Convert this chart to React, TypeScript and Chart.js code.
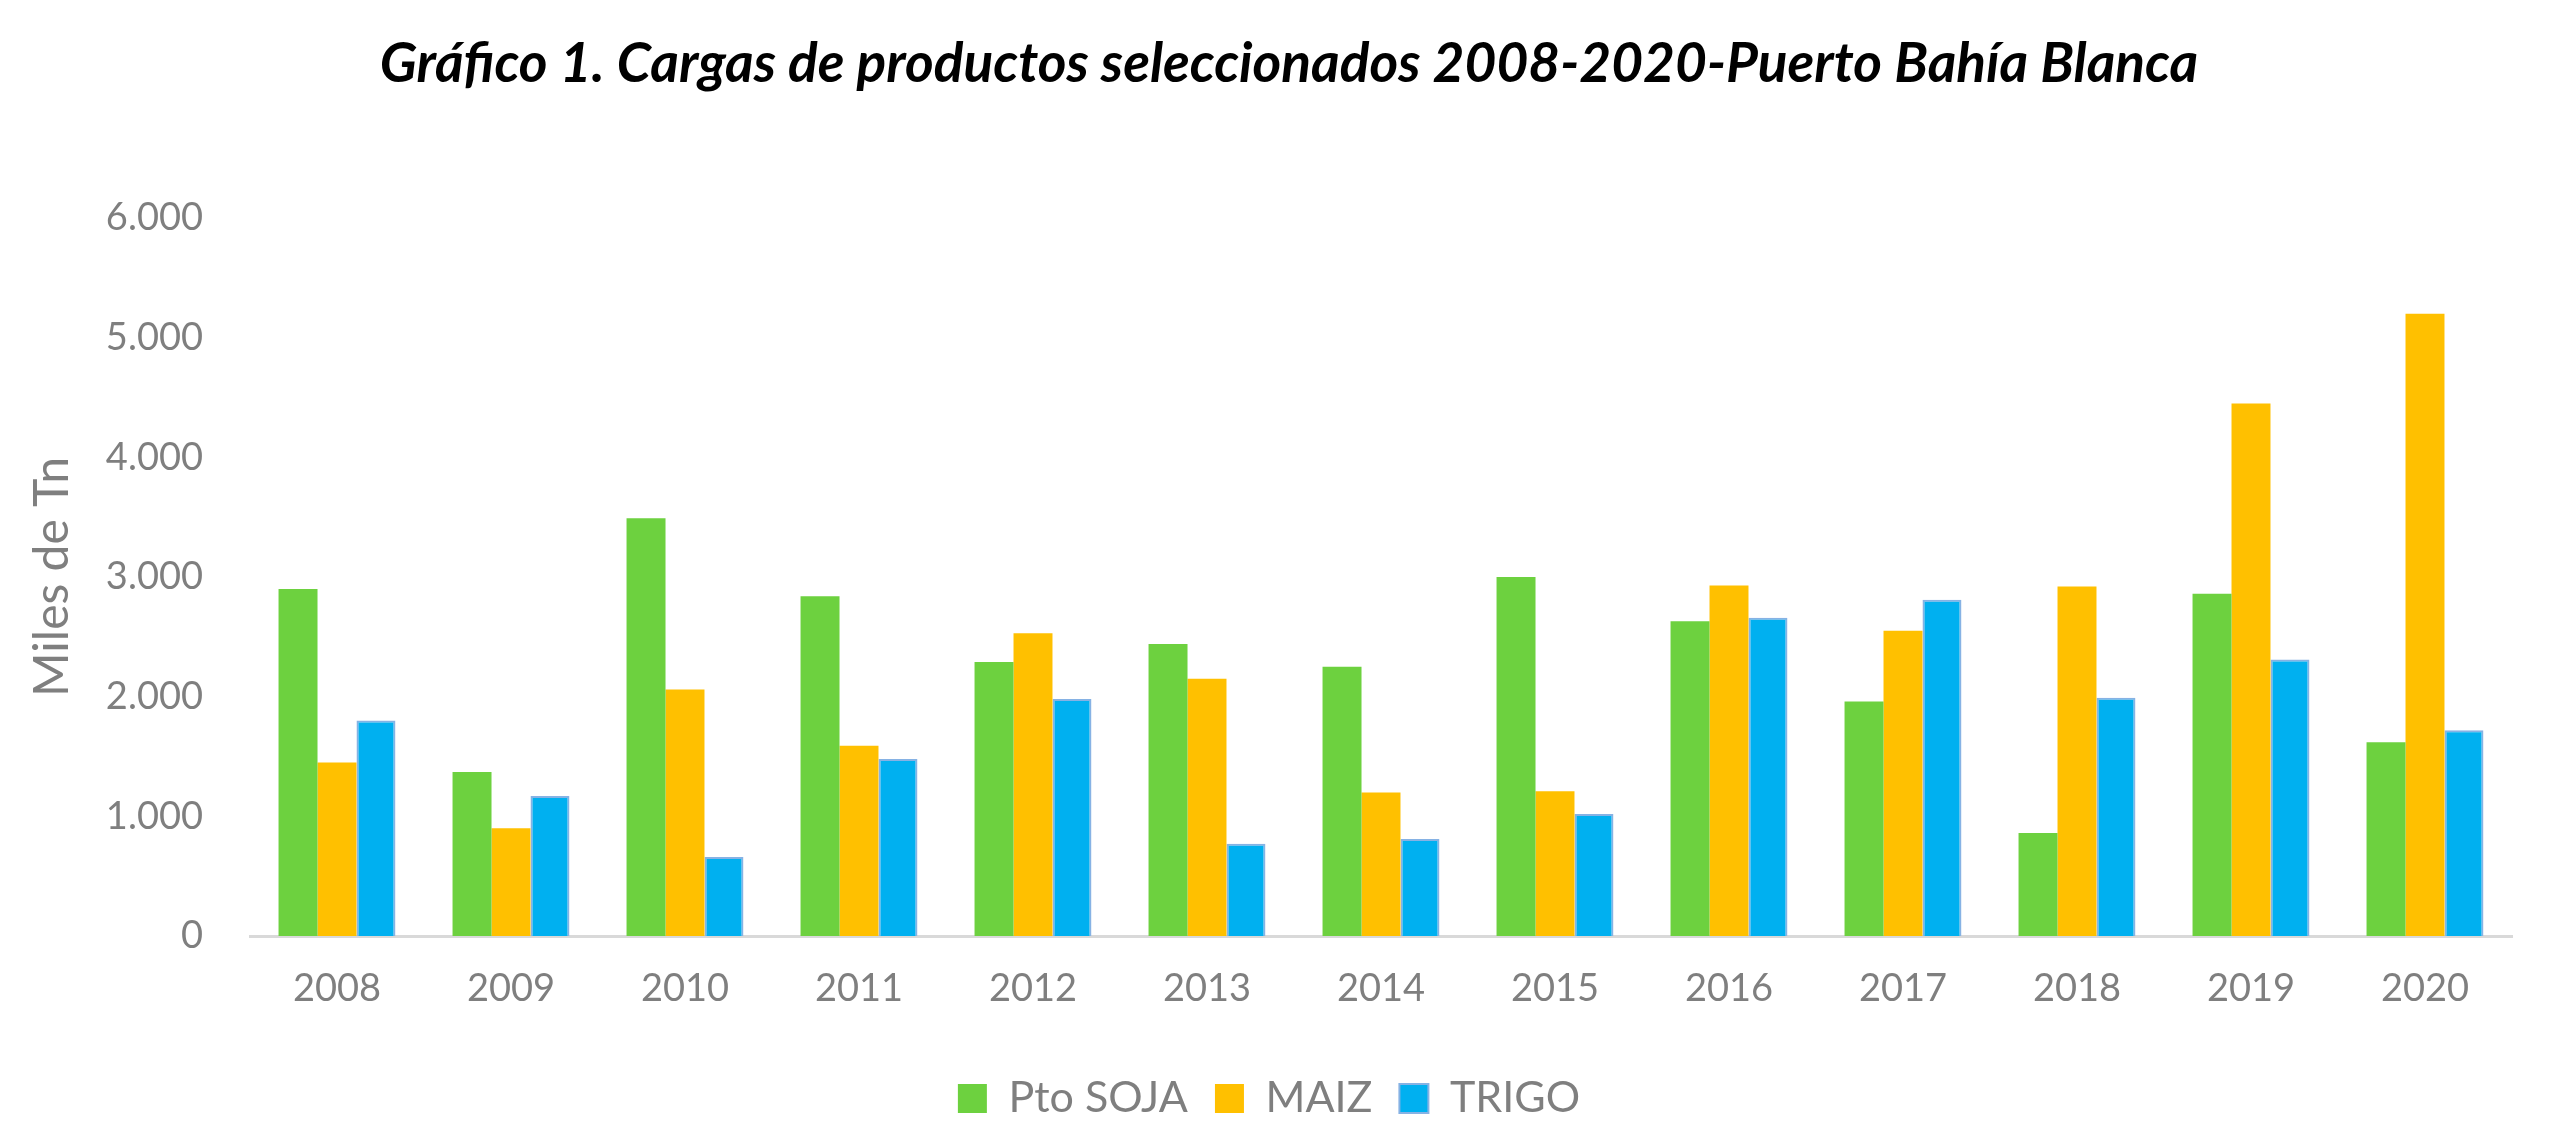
import React, { useEffect, useRef } from "react";
import { Chart, registerables } from "chart.js";

Chart.register(...registerables);

const chartTitle = "Gráfico 1. Cargas de productos seleccionados 2008-2020-Puerto Bahía Blanca";
const yAxisTitle = "Miles de Tn";
const years = ["2008", "2009", "2010", "2011", "2012", "2013", "2014", "2015", "2016", "2017", "2018", "2019", "2020"];
const seriesNames = ["Pto SOJA", "MAIZ", "TRIGO"];
const soja = [2900, 1370, 3490, 2840, 2290, 2440, 2250, 3000, 2630, 1960, 860, 2860, 1620];
const maiz = [1450, 900, 2060, 1590, 2530, 2150, 1200, 1210, 2930, 2550, 2920, 4450, 5200];
const trigo = [1800, 1170, 660, 1480, 1980, 770, 810, 1020, 2660, 2810, 1990, 2310, 1720];
const yMin = 0;
const yMax = 6000;
const yStep = 1000;

const GREEN = "#6DD13F";
const YELLOW = "#FFC000";
const BLUE = "#00B0F0";
const GRAY = "#7F7F7F";

const fmt = (v: number) => String(v).replace(/\B(?=(\d{3})+(?!\d))/g, ".");

const shiftBoxes = {
  id: "shiftBoxes",
  afterLayout(chart: any) {
    if (chart.titleBlock) chart.titleBlock.left += 66;
    if (chart.legend) chart.legend.left += 26;
  },
};

export default function App() {
  const ref = useRef<HTMLCanvasElement | null>(null);

  useEffect(() => {
    if (!ref.current) return;
    const chart = new Chart(ref.current, {
      type: "bar",
      data: {
        labels: years,
        datasets: [
          { label: seriesNames[0], data: soja, backgroundColor: GREEN, borderWidth: 0 },
          { label: seriesNames[1], data: maiz, backgroundColor: YELLOW, borderWidth: 0 },
          { label: seriesNames[2], data: trigo, backgroundColor: BLUE, borderColor: "#86B2E4", borderWidth: 2 },
        ],
      },
      options: {
        responsive: false,
        animation: false,
        layout: { padding: { left: 0, right: 48, top: 0, bottom: 18 } },
        datasets: { bar: { categoryPercentage: 0.672, barPercentage: 1 } },
        plugins: {
          title: {
            display: true,
            text: chartTitle,
            color: "#000000",
            font: { family: "Lato", size: 55, weight: "bold", style: "italic" },
            padding: { top: 31, bottom: 121 },
          },
          legend: {
            display: true,
            position: "bottom",
            labels: {
              color: GRAY,
              font: { family: "Lato", size: 43 },
              boxWidth: 29,
              boxHeight: 29,
              padding: 27,
            },
          },
          tooltip: { enabled: false },
        },
        scales: {
          x: {
            grid: { display: false, drawTicks: false },
            border: { display: true, color: "#D9D9D9", width: 3 },
            ticks: { color: GRAY, font: { family: "Lato", size: 38 }, padding: 30 },
            afterFit: (s: any) => {
              s.height = 114;
            },
          },
          y: {
            min: yMin,
            max: yMax,
            grid: { display: false, drawTicks: false },
            border: { display: false },
            ticks: {
              stepSize: yStep,
              color: GRAY,
              font: { family: "Lato", size: 38 },
              padding: 47,
              callback: (v: any) => fmt(Number(v)),
            },
            title: {
              display: true,
              text: yAxisTitle,
              color: GRAY,
              font: { family: "Lato", size: 48 },
              padding: { top: 24, bottom: 0 },
            },
            afterFit: (s: any) => {
              s.width = 250;
            },
          },
        },
      },
      plugins: [shiftBoxes],
    });
    return () => chart.destroy();
  }, []);

  return (
    <div style={{ position: "fixed", left: 0, top: 0, width: 2560, height: 1148, background: "#ffffff" }}>
      <canvas ref={ref} width={2560} height={1148} style={{ width: 2560, height: 1148, display: "block" }} />
    </div>
  );
}
